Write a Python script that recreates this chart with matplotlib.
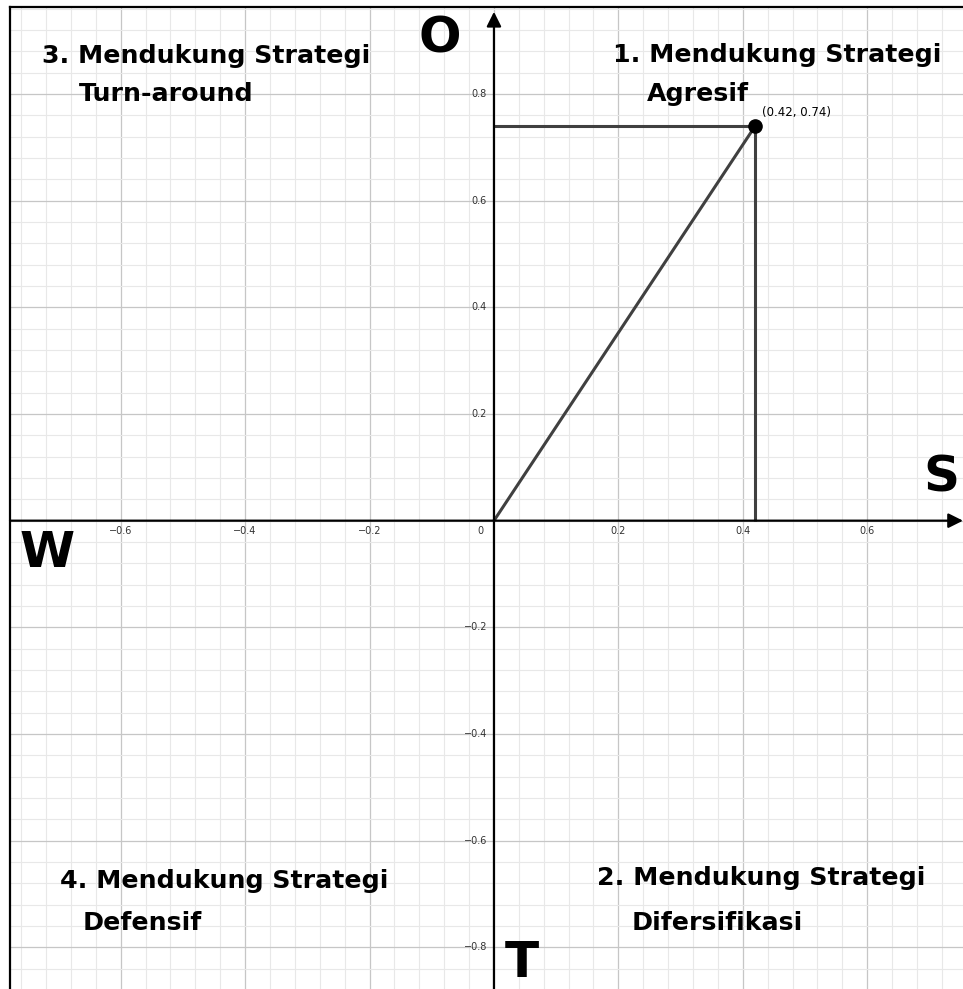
import matplotlib
matplotlib.use("Agg")
import matplotlib.pyplot as plt
from matplotlib.ticker import MultipleLocator

# ---- data ----
point_x = 0.42
point_y = 0.74
point_label = "(0.42, 0.74)"
x_tick_values = [-0.6, -0.4, -0.2, 0.2, 0.4, 0.6]
y_tick_values = [-0.8, -0.6, -0.4, -0.2, 0.2, 0.4, 0.6, 0.8]
quadrant_titles = ["1. Mendukung Strategi", "2. Mendukung Strategi",
                   "3. Mendukung Strategi", "4. Mendukung Strategi"]
quadrant_subtitles = ["Agresif", "Difersifikasi", "Turn-around", "Defensif"]
axis_letters = ["O", "S", "W", "T"]

# ---- figure ----
W, H = 963, 989
fig = plt.figure(figsize=(W / 100, H / 100), dpi=100)
ax = fig.add_axes([10 / W, 0, (W - 10) / W, (H - 7) / H])
xmin, xmax = -0.778, 0.754
ymin, ymax = -0.878, 0.963
ax.set_xlim(xmin, xmax)
ax.set_ylim(ymin, ymax)

ax.xaxis.set_major_locator(MultipleLocator(0.2))
ax.yaxis.set_major_locator(MultipleLocator(0.2))
ax.xaxis.set_minor_locator(MultipleLocator(0.04))
ax.yaxis.set_minor_locator(MultipleLocator(0.04))
ax.grid(which="minor", color="#e8e8e8", lw=0.8)
ax.grid(which="major", color="#c6c6c6", lw=0.9)
ax.set_axisbelow(True)
ax.tick_params(which="both", length=0, labelbottom=False, labelleft=False)

for s in ["right", "bottom"]:
    ax.spines[s].set_visible(False)
for s in ["left", "top"]:
    ax.spines[s].set_color("black")
    ax.spines[s].set_linewidth(1.6)

# coordinate axes with arrows
ax.annotate("", xy=(xmax, 0), xytext=(xmin, 0),
            arrowprops=dict(arrowstyle="-|>", lw=1.6, color="black",
                            mutation_scale=22, shrinkA=0, shrinkB=0))
ax.annotate("", xy=(0, 0.954), xytext=(0, ymin),
            arrowprops=dict(arrowstyle="-|>", lw=1.6, color="black",
                            mutation_scale=22, shrinkA=0, shrinkB=0))

# tick labels
tick_kw = dict(fontsize=7, color="#333333", family="DejaVu Sans")
for v in x_tick_values:
    ax.text(v, -0.02, f"{v:.1f}".replace("-", "\u2212"), ha="center", va="center", **tick_kw)
for v in y_tick_values:
    ax.text(-0.011, v, f"{v:.1f}".replace("-", "\u2212"), ha="right", va="center", **tick_kw)
ax.text(-0.021, -0.02, "0", ha="center", va="center", **tick_kw)

# lines to the point
line_kw = dict(color="#404040", lw=2.2, solid_capstyle="butt")
ax.plot([0, point_x], [point_y, point_y], **line_kw)
ax.plot([point_x, point_x], [0, point_y], **line_kw)
ax.plot([0, point_x], [0, point_y], **line_kw)
ax.plot([point_x], [point_y], "o", color="black", ms=9.5, zorder=5)
ax.annotate(point_label, xy=(point_x, point_y), xytext=(7, 10),
            textcoords="offset pixels", ha="left", va="baseline",
            fontsize=8.5, color="black", family="DejaVu Sans")

# quadrant texts
qkw = dict(fontsize=18.2, fontweight="bold", color="black",
           family="DejaVu Sans", ha="left", va="baseline")
title_pos = [(0.192, 0.859), (0.166, -0.683), (-0.727, 0.858), (-0.698, -0.689)]
sub_pos = [(0.246, 0.786), (0.222, -0.768), (-0.667, 0.786), (-0.661, -0.767)]
for t, (x, y) in zip(quadrant_titles, title_pos):
    ax.text(x, y, t, **qkw)
for t, (x, y) in zip(quadrant_subtitles, sub_pos):
    ax.text(x, y, t, **qkw)

# big axis letters
lkw = dict(fontsize=36, fontweight="bold", color="black",
           family="DejaVu Sans", ha="center", va="baseline")
letter_pos = [(-0.087, 0.877), (0.719, 0.054), (-0.719, -0.0875), (0.0442, -0.855)]
for t, (x, y) in zip(axis_letters, letter_pos):
    ax.text(x, y, t, **lkw)

fig.savefig("out.png", dpi=100, facecolor="white")
